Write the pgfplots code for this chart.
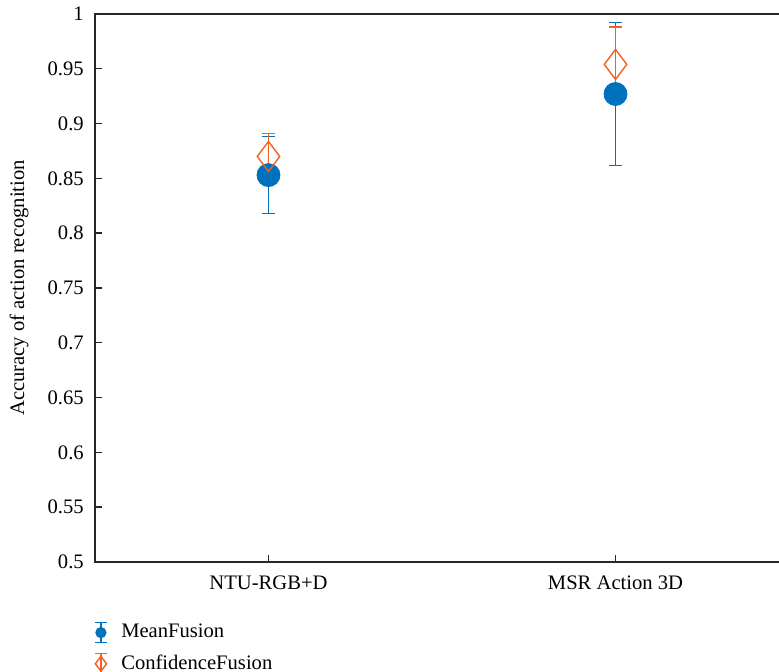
\documentclass[border=0pt]{standalone}
\usepackage{pgfplots}
\pgfplotsset{compat=1.18}
\usepackage{fontspec}
\setmainfont{Liberation Serif}
\definecolor{mblue}{rgb}{0,0.447,0.741}
\definecolor{morange}{rgb}{0.95,0.38,0.12}
\definecolor{axgray}{rgb}{0.15,0.15,0.15}
\newcommand{\fs}{\fontsize{10.3}{12}\selectfont}
\begin{document}
\fs
\begin{tikzpicture}
\useasboundingbox (-47.5pt,-55pt) rectangle (342pt,281pt);
\begin{axis}[
  scale only axis,
  width=347pt, height=274pt,
  at={(0,0)}, anchor=south west,
  xmin=0.5, xmax=2.5, ymin=0.5, ymax=1,
  xtick={1,2}, xticklabels={NTU-RGB+D, MSR Action 3D},
  ytick={0.5,0.55,...,1.01},
  tick align=inside, xtick pos=left, ytick pos=left,
  major tick length=3.5pt,
  axis line style={axgray, line width=0.7pt},
  every tick/.style={axgray, line width=0.7pt},
  tick label style={font=\fs, text=black},
  yticklabel style={xshift=-2pt},
  xticklabel style={yshift=-3.5pt},
  /pgf/number format/assume math mode=true,
  ylabel={Accuracy of action recognition},
  ylabel style={font=\fs, yshift=2.5pt},
  legend style={at={(axis description cs:-0.009,-0.1055)}, anchor=north west, draw=none, fill=none,
    font=\fs, row sep=3pt, inner sep=0pt},
  legend cell align=left,
]
% blue markers
\addplot[only marks, mark=*, mark size=5.75pt, mark options={fill=mblue, draw=mblue}, forget plot]
  coordinates {(1,0.853) (2,0.927)};
% blue error bars
\addplot[mblue, draw=none, mark=none, forget plot,
  every error bar/.append style={draw=mblue},
  error bars/.cd, y dir=both, y explicit,
  error mark options={rotate=90, mark size=3.2pt, line width=0.7pt, draw=mblue},
  error bar style={line width=0.7pt, draw=mblue, solid}]
  coordinates {(1,0.853) +- (0,0.035) (2,0.927) +- (0,0.065)};
% orange error bars
\addplot[morange, draw=none, mark=none, forget plot,
  every error bar/.append style={draw=morange},
  error bars/.cd, y dir=both, y explicit,
  error mark options={rotate=90, mark size=3.2pt, line width=0.7pt, draw=morange},
  error bar style={line width=0.7pt, draw=morange, solid}]
  coordinates {(1,0.870) +- (0,0.021) (2,0.954) +- (0,0.034)};
% orange diamonds
\addplot[only marks, mark=diamond, mark size=7.5pt, mark options={draw=morange, fill=none, line width=0.7pt}, forget plot]
  coordinates {(1,0.870) (2,0.954)};

\addlegendimage{legend image code/.code={
  \path (0,0) (0.48cm,0);
  \draw[mblue, line width=0.7pt] (0.2cm,-5pt) -- (0.2cm,5pt);
  \draw[mblue, line width=0.7pt] (0.2cm-3pt,-5pt) -- (0.2cm+3pt,-5pt);
  \draw[mblue, line width=0.7pt] (0.2cm-3pt,5pt) -- (0.2cm+3pt,5pt);
  \fill[mblue] (0.2cm,0pt) circle (2.6pt);
}}
\addlegendentry{MeanFusion}
\addlegendimage{legend image code/.code={
  \path (0,0) (0.48cm,0);
  \draw[morange, line width=0.7pt] (0.2cm,-5pt) -- (0.2cm,5pt);
  \draw[morange, line width=0.7pt] (0.2cm-3pt,-5pt) -- (0.2cm+3pt,-5pt);
  \draw[morange, line width=0.7pt] (0.2cm-3pt,5pt) -- (0.2cm+3pt,5pt);
  \draw[morange, line width=0.7pt] (0.2cm,3.75pt) -- (0.2cm+2.8pt,0pt) -- (0.2cm,-3.75pt) -- (0.2cm-2.8pt,0pt) -- cycle;
}}
\addlegendentry{ConfidenceFusion}
\end{axis}
\end{tikzpicture}
\end{document}
